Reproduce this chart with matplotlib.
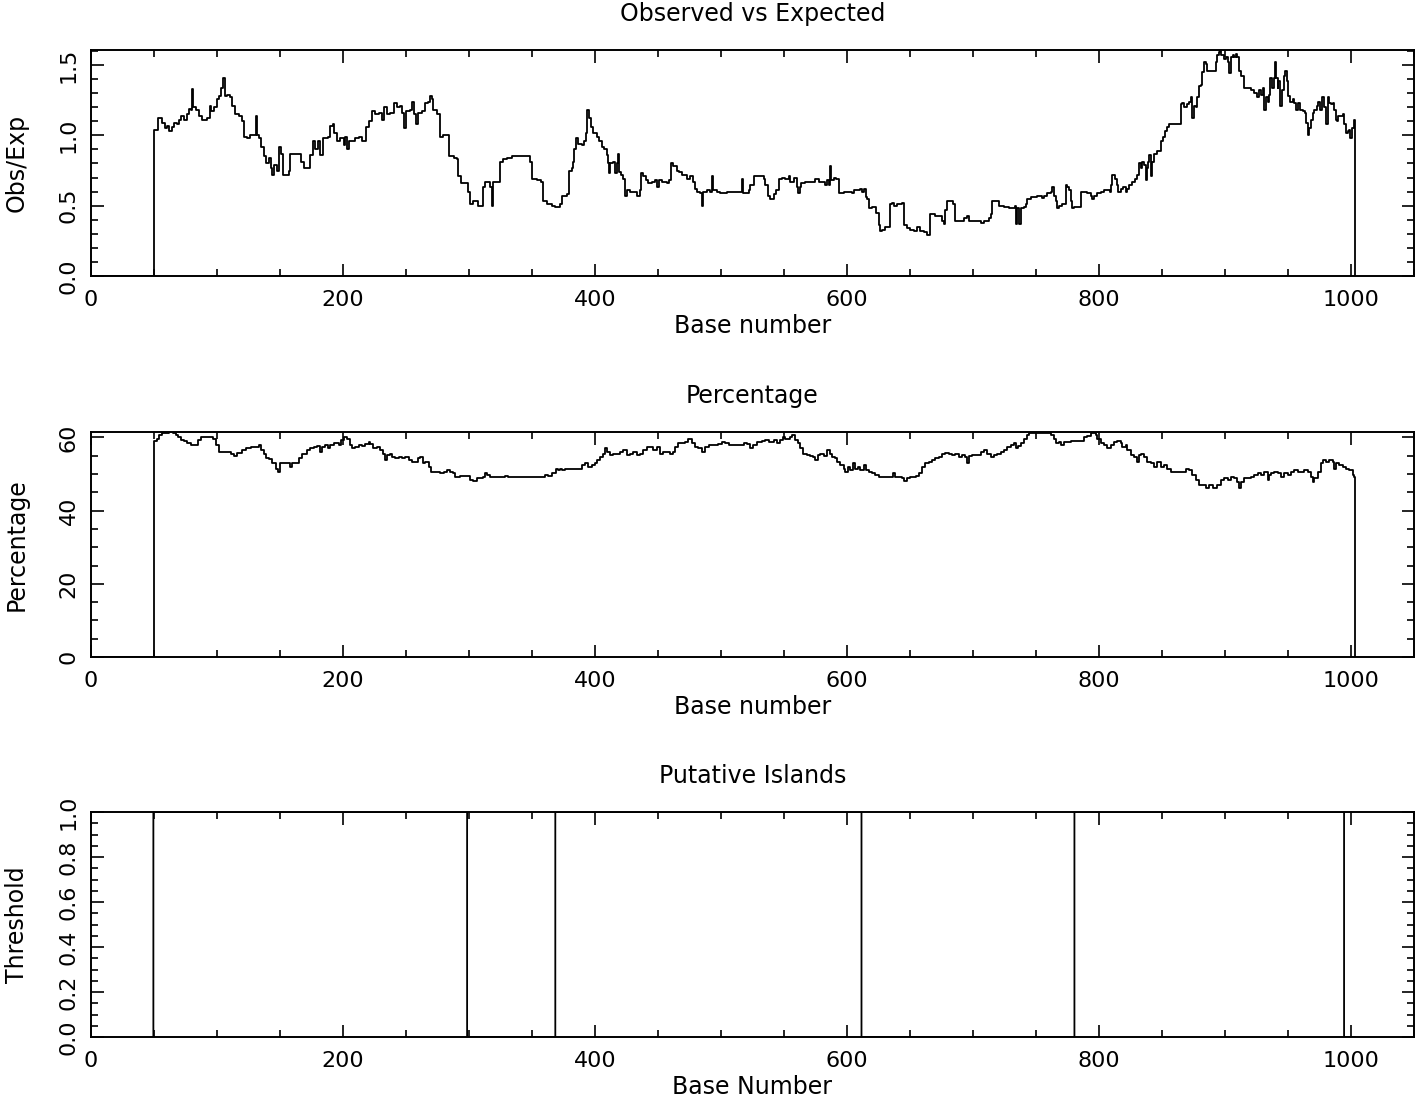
import matplotlib
matplotlib.use("Agg")
import matplotlib.pyplot as plt
from matplotlib.ticker import MultipleLocator

# ---- observed / expected ratio ----
obs_base = [1, 49, 50, 52.8, 56, 56.7, 58.6, 60.7, 62, 63.9, 66, 68, 70, 71.8, 73.9, 76, 77.8, 79.7,
            80.5, 81.3, 83.1, 85.8, 88.4, 91, 92.4, 94.5, 95.5, 97.6, 99.8, 101.6, 103.4, 104.5, 106.1,
            108.2, 110.3, 111.6, 114, 117.4, 120.1, 121.4, 123.5, 126.1, 128.8, 130.6, 131.4, 133.3,
            135.1, 137.2, 138.5, 141.2, 142.5, 143.8, 145.1, 147.3, 149.1, 151, 152.5, 155.7, 157,
            158.3, 161, 164.9, 166.8, 168.9, 172.1, 174.2, 176.3, 178.1, 180, 182.1, 184.2, 187.9, 190,
            192.1, 193.2, 195.3, 197.9, 200.6, 201.9, 203.2, 204.5, 207.2, 209.8, 212.4, 215.1, 216.9,
            218.5, 220.4, 223, 225.6, 228.3, 230.9, 232.8, 234.9, 237.5, 240.1, 242.8, 244.9, 247,
            248.6, 250.2, 252.8, 254.7, 256.5, 258.1, 259.9, 262.6, 265.2, 267.1, 269.2, 270.5, 271.8,
            274.5, 276.6, 277.1, 279.7, 283.2, 284.5, 287.7, 290.3, 291.6, 293.5, 297.7, 299.5, 300.8,
            303.5, 307.4, 310.1, 310.9, 312.7, 315.4, 316.7, 318, 319.3, 322.5, 324.6, 327.2, 330.4,
            333.8, 340.4, 344.4, 348.3, 349.9, 353.6, 356.8, 358.9, 362.1, 365.5, 368.1, 372.1, 374.2,
            377.9, 379.5, 381.5, 382.8, 383.3, 384.9, 386.8, 389.4, 391.3, 392.8, 393.4, 393.9, 395.5,
            396.6, 398.7, 401.3, 403.4, 405.3, 407.2, 409.3, 410.6, 411.0, 411.9, 414.6, 415.9, 417.2,
            418.5, 419.3, 420.7, 422.5, 424.1, 425.2, 427.8, 430.5, 433.6, 435.8, 436.3, 438.4, 440.5,
            442.4, 445, 447.7, 449, 451.1, 453, 455.6, 457, 459.1, 460.4, 462.3, 464.9, 467, 468.9,
            470.7, 472.8, 475.5, 477.6, 479.5, 481.3, 483.4, 484.8, 486.1, 488.7, 491.4, 492.7, 494,
            496.7, 499.3, 502, 504.6, 509.9, 515.2, 516.6, 517.4, 519.2, 521.9, 523.2, 525.8, 531.1,
            533.8, 535.1, 537, 539.1, 541.7, 543.8, 545.7, 548.3, 551, 553.6, 555, 557.6, 560.3, 560.8,
            562.4, 563.4, 566.9, 570.9, 574.8, 577.5, 580.1, 582.8, 584.1, 585.4, 586.2, 587.3, 589.4,
            591.5, 593.4, 596, 597.4, 601.3, 604, 605.3, 608, 610.6, 611.9, 613.8, 615.4, 615.9, 617.2,
            619.9, 621.7, 623.3, 625.2, 626, 627.8, 630.5, 633.1, 633.9, 635.8, 637.1, 639.7, 643.7,
            645, 647.7, 650.3, 653, 655.6, 658.3, 660.9, 663.6, 664.9, 666.2, 668.3, 670.2, 672.8,
            675.5, 676.8, 678.1, 679.5, 682.1, 684.2, 686.1, 688.7, 691.4, 693.2, 695.4, 696.7, 700.7,
            704.6, 706.5, 708.6, 712.6, 713.9, 715.2, 717.9, 720.5, 724.5, 728.5, 731.1, 733, 733.8,
            735.1, 736.4, 737.7, 740.4, 741.7, 743, 745.7, 748.3, 751, 753.6, 755, 756.3, 758.9, 761.6,
            762.9, 764.2, 765.6, 766.4, 768.2, 770.9, 772.2, 773.5, 774.8, 776.2, 777.5, 778.8, 780.1,
            784.1, 785.4, 788.1, 790.7, 793.4, 794.7, 796, 798.7, 801.3, 804, 806.6, 808.7, 809.3,
            810.6, 812.5, 814, 815.1, 817.2, 819.3, 821.2, 822.5, 823.8, 826.5, 828.3, 830.5, 831.8,
            833.1, 834.4, 835.8, 837.1, 837.9, 838.9, 840, 841.1, 842.4, 843.7, 845.8, 847.7, 849.5,
            851.1, 852.2, 853.8, 855.6, 859.6, 863.6, 864.9, 866.2, 867.5, 868.9, 870.2, 871.5, 872.8,
            874.2, 875.5, 876.8, 878.1, 879.5, 880.8, 882.1, 883.4, 884.8, 886.1, 887.4, 890.1, 891.4,
            892.7, 894, 895.4, 896.2, 897.2, 899.3, 900.7, 902, 903.3, 904.6, 906, 907.3, 908.6, 909.9,
            911.3, 912.6, 914.7, 916.6, 919.2, 920.5, 923.2, 925.3, 927.2, 928.5, 929.8, 931.1, 932.5,
            934.3, 935.1, 935.9, 937, 938.5, 939.6, 940.4, 941.7, 942.3, 943.8, 944.9, 946.5, 947.5,
            949.1, 950.2, 951.8, 953.6, 955, 956.3, 957.6, 959.7, 961.6, 963.4, 964.2, 965.6, 966.9,
            968.2, 969.5, 970.9, 973, 974, 975.6, 976.7, 978.3, 979.3, 980.1, 981.5, 982.8, 984.1,
            985.4, 986.8, 988.1, 988.9, 989.9, 991.5, 993.4, 994.7, 996, 997.4, 998.7, 999.5, 1000.5,
            1002.1, 1002.6, 1003.2]
obs_val = [0, 0, 1.04, 1.12, 1.12, 1.09, 1.05, 1.07, 1.03, 1.06, 1.09, 1.08, 1.11, 1.14, 1.11, 1.15,
           1.19, 1.18, 1.33, 1.20, 1.18, 1.14, 1.11, 1.11, 1.12, 1.21, 1.17, 1.20, 1.26, 1.28, 1.34,
           1.41, 1.28, 1.29, 1.27, 1.21, 1.15, 1.14, 1.10, 0.99, 0.98, 1.00, 1.00, 1.14, 1.00, 0.98,
           0.92, 0.85, 0.80, 0.84, 0.77, 0.72, 0.79, 0.75, 0.92, 0.87, 0.72, 0.72, 0.75, 0.87, 0.87,
           0.87, 0.81, 0.77, 0.77, 0.86, 0.96, 0.90, 0.96, 0.86, 0.98, 0.99, 1.07, 1.08, 1.02, 0.96,
           0.98, 0.93, 0.99, 0.90, 0.96, 0.96, 0.98, 0.99, 0.96, 0.96, 1.06, 1.10, 1.17, 1.15, 1.16,
           1.11, 1.20, 1.15, 1.16, 1.23, 1.20, 1.21, 1.16, 1.05, 1.17, 1.18, 1.24, 1.15, 1.08, 1.16,
           1.17, 1.23, 1.24, 1.28, 1.26, 1.18, 1.15, 1.08, 0.99, 1.00, 1.00, 0.85, 0.84, 0.83, 0.71,
           0.66, 0.66, 0.60, 0.51, 0.53, 0.50, 0.50, 0.63, 0.67, 0.67, 0.63, 0.50, 0.67, 0.67, 0.81,
           0.83, 0.84, 0.85, 0.85, 0.85, 0.81, 0.69, 0.68, 0.67, 0.53, 0.51, 0.50, 0.49, 0.51, 0.57,
           0.58, 0.75, 0.77, 0.81, 0.90, 0.98, 0.94, 0.93, 0.96, 1.02, 1.09, 1.18, 1.12, 1.06, 1.02,
           0.99, 0.96, 0.92, 0.90, 0.86, 0.80, 0.73, 0.80, 0.81, 0.73, 0.80, 0.87, 0.74, 0.72, 0.69,
           0.57, 0.61, 0.60, 0.60, 0.57, 0.61, 0.73, 0.71, 0.68, 0.66, 0.67, 0.68, 0.63, 0.68, 0.67,
           0.67, 0.66, 0.68, 0.80, 0.78, 0.75, 0.74, 0.72, 0.72, 0.69, 0.71, 0.67, 0.62, 0.60, 0.59,
           0.50, 0.60, 0.61, 0.60, 0.71, 0.61, 0.60, 0.59, 0.59, 0.60, 0.60, 0.60, 0.69, 0.59, 0.59,
           0.61, 0.65, 0.71, 0.71, 0.69, 0.65, 0.57, 0.55, 0.58, 0.61, 0.69, 0.70, 0.69, 0.71, 0.67,
           0.70, 0.63, 0.59, 0.63, 0.66, 0.67, 0.67, 0.69, 0.67, 0.67, 0.65, 0.68, 0.65, 0.78, 0.68,
           0.70, 0.69, 0.59, 0.59, 0.60, 0.60, 0.59, 0.61, 0.61, 0.62, 0.60, 0.62, 0.56, 0.55, 0.48,
           0.49, 0.49, 0.45, 0.36, 0.32, 0.33, 0.35, 0.35, 0.51, 0.52, 0.50, 0.51, 0.52, 0.36, 0.34,
           0.33, 0.32, 0.35, 0.32, 0.31, 0.29, 0.29, 0.44, 0.44, 0.43, 0.43, 0.39, 0.37, 0.47, 0.53,
           0.53, 0.51, 0.39, 0.39, 0.39, 0.41, 0.43, 0.39, 0.39, 0.39, 0.38, 0.39, 0.41, 0.44, 0.53,
           0.53, 0.50, 0.49, 0.48, 0.48, 0.50, 0.37, 0.48, 0.37, 0.48, 0.49, 0.51, 0.55, 0.56, 0.56,
           0.57, 0.57, 0.555, 0.57, 0.59, 0.60, 0.63, 0.57, 0.53, 0.48, 0.50, 0.51, 0.51, 0.65, 0.63,
           0.61, 0.53, 0.48, 0.49, 0.49, 0.60, 0.60, 0.59, 0.57, 0.55, 0.57, 0.59, 0.60, 0.61, 0.61,
           0.60, 0.65, 0.72, 0.69, 0.65, 0.60, 0.62, 0.63, 0.60, 0.62, 0.65, 0.67, 0.69, 0.72, 0.80,
           0.77, 0.81, 0.79, 0.68, 0.77, 0.81, 0.86, 0.71, 0.81, 0.87, 0.89, 0.89, 0.96, 0.99, 1.03,
           1.06, 1.08, 1.08, 1.08, 1.22, 1.23, 1.20, 1.20, 1.22, 1.24, 1.27, 1.12, 1.21, 1.20, 1.27,
           1.35, 1.36, 1.45, 1.52, 1.51, 1.46, 1.46, 1.46, 1.46, 1.52, 1.57, 1.59, 1.615, 1.57, 1.54,
           1.56, 1.52, 1.44, 1.56, 1.57, 1.56, 1.58, 1.56, 1.46, 1.42, 1.34, 1.34, 1.34, 1.32, 1.30,
           1.27, 1.32, 1.29, 1.34, 1.18, 1.27, 1.24, 1.29, 1.41, 1.34, 1.41, 1.52, 1.41, 1.34, 1.39,
           1.21, 1.32, 1.42, 1.46, 1.39, 1.28, 1.24, 1.26, 1.23, 1.18, 1.23, 1.18, 1.17, 1.16, 1.09,
           1.00, 1.05, 1.11, 1.16, 1.18, 1.21, 1.24, 1.18, 1.27, 1.20, 1.20, 1.08, 1.27, 1.23, 1.22,
           1.23, 1.18, 1.11, 1.10, 1.14, 1.14, 1.15, 1.08, 1.02, 1.03, 1.04, 0.98, 1.05, 1.10, 1.11, 0]

# ---- CpG percentage ----
pct_base = [1, 49, 50, 52.3, 54.1, 56, 58.1, 62, 64.7, 67.3, 69.1, 71.3, 73.9, 76.5, 79.2, 83.1, 85,
            87.1, 91, 95, 97.1, 99, 101.6, 105.6, 110.8, 113.5, 116.1, 120.1, 122.7, 126.7, 130.6,
            133.3, 135.1, 137.2, 138.5, 141.2, 143.8, 146.5, 148.3, 149.9, 153.1, 155.7, 157.8, 159.7,
            163.6, 164.9, 167.6, 171.5, 174.2, 176.8, 179.5, 181.6, 183.4, 186, 187.9, 190, 192.6,
            195.3, 196.6, 198.5, 201.1, 203.2, 205.3, 207.2, 209.8, 212.4, 215.1, 217.7, 220.4, 221.7,
            223.8, 227, 229.6, 231.7, 233.6, 234.9, 237, 238.8, 241.5, 244.1, 246.7, 249.4, 252, 254.7,
            257.3, 259.9, 261.3, 263.4, 265.2, 267.9, 269.7, 271.8, 274.5, 277.1, 280.3, 282.4, 285,
            287.1, 289, 292.9, 297.7, 300.8, 303.5, 306.6, 309.3, 310.9, 312.7, 314.6, 316.7, 324.6,
            328.6, 331.2, 336.5, 340.4, 343.1, 349.7, 353.6, 357.6, 360.2, 362.9, 365.5, 368.1, 368.9,
            370.8, 372.6, 374.2, 376.1, 380, 382.8, 386.8, 389.4, 392.1, 394.7, 397.4, 400, 401.9,
            404, 406.6, 407.9, 409.8, 411.9, 414.6, 417.2, 419.9, 422.5, 425.2, 427.8, 430.5, 433.1,
            435.8, 438.4, 441.1, 443.7, 446.4, 449, 451.7, 454.3, 457, 459.6, 462.3, 463.6, 466.2,
            468.9, 471.5, 474.2, 476.8, 479.5, 482.1, 484.8, 487.4, 490.1, 494, 498, 500.7, 503.3,
            506, 509.9, 515.2, 517.9, 520.5, 523.2, 525.3, 528.5, 532.5, 535.1, 537.7, 541.7, 544.4,
            547, 549.1, 551, 554.4, 556.3, 558.9, 560.8, 562.9, 565, 568.2, 570.9, 573, 574.8, 576.7,
            578.8, 581.5, 584.1, 586.2, 588.1, 590.7, 592.1, 594.7, 597.4, 598.7, 600.5, 602.6, 604.8,
            606.6, 608.5, 610.6, 613.2, 615.4, 617.2, 619.9, 622.5, 625.2, 627.8, 630.5, 634.4, 636.6,
            638.4, 641.1, 643.7, 645.6, 647.7, 650.3, 653, 655.1, 657, 659.6, 662.3, 664.9, 667.5,
            670.2, 672.8, 675.5, 678.1, 680.8, 683.4, 686.1, 688.7, 691.4, 694, 695.4, 696.7, 699.3,
            703.3, 706, 708.6, 711.3, 713.9, 716.6, 719.2, 721.9, 724.5, 727.2, 729.8, 732.5, 733.8,
            735.6, 737.7, 740.4, 742.5, 744.4, 753.6, 755, 758.9, 761.6, 764.2, 765.6, 768.2, 769.5,
            772.2, 777.5, 785.4, 788.1, 790.7, 793.4, 794.7, 797.4, 798.7, 801.3, 804, 806.6, 809.3,
            811.9, 814.6, 817.2, 818.5, 821.2, 822.5, 825.2, 827.8, 830.5, 831.8, 833.1, 835.8, 838.4,
            841.1, 843.7, 846.4, 849, 851.7, 854.3, 857, 866.2, 868.9, 871.5, 874.2, 876.8, 879.5,
            882.1, 884.8, 887.4, 890.1, 892.7, 894, 896.7, 899.3, 902, 904.6, 907.3, 909.9, 911.3,
            912.6, 915.2, 920.5, 923.2, 925.8, 928.5, 931.1, 933.8, 935.1, 936.4, 939.1, 941.7, 944.4,
            947, 949.7, 952.3, 955, 957.6, 960.3, 962.9, 965.6, 968.2, 969.5, 970.9, 973.5, 976.2,
            977.5, 980.1, 982.8, 985.4, 986.8, 988.1, 990.7, 993.4, 996, 998.7, 1001.3, 1002.6, 1003.2]
pct_val = [0, 0, 59.1, 59.7, 60.6, 61.1, 61.3, 61.6, 61.3, 60.6, 60.2, 59.3, 59.1, 58.5, 57.9, 57.9,
           59.3, 60.0, 60.0, 60.2, 59.7, 57.9, 56.1, 56.1, 55.6, 54.9, 55.8, 56.5, 57.0, 57.4, 57.3,
           57.9, 56.5, 55.6, 54.3, 54.0, 52.9, 51.5, 50.6, 52.9, 52.9, 52.9, 52.0, 52.9, 52.9, 54.3,
           55.6, 56.5, 57.0, 57.4, 57.6, 56.1, 57.4, 57.9, 57.0, 57.9, 58.4, 58.5, 57.9, 59.3, 60.2,
           59.7, 57.9, 57.0, 57.4, 57.9, 57.6, 58.2, 58.8, 58.2, 57.0, 57.4, 56.5, 55.6, 53.8, 55.2,
           55.6, 54.7, 54.3, 54.7, 54.3, 54.7, 53.8, 53.3, 53.3, 54.3, 54.7, 52.9, 53.3, 52.0, 50.6,
           50.6, 50.6, 50.2, 50.6, 51.1, 50.6, 50.2, 49.2, 49.4, 49.4, 48.3, 48.1, 48.8, 48.8, 49.2,
           50.3, 49.7, 49.2, 49.2, 49.4, 49.1, 49.1, 49.2, 49.2, 49.1, 49.1, 49.1, 49.7, 49.4, 50.2,
           50.2, 51.5, 51.1, 51.5, 51.1, 51.5, 51.5, 51.5, 51.5, 52.4, 52.9, 52.0, 52.4, 53.1, 53.8,
           54.7, 55.6, 57.0, 56.1, 55.2, 55.6, 55.6, 56.1, 56.5, 55.2, 55.6, 56.1, 55.2, 55.6, 56.5,
           57.4, 57.4, 56.5, 57.4, 55.6, 56.1, 56.1, 55.6, 56.1, 57.4, 58.4, 58.4, 58.8, 59.7, 58.4,
           57.4, 57.0, 56.1, 57.4, 57.9, 57.9, 58.2, 58.8, 58.4, 57.9, 57.9, 57.9, 58.4, 58.2, 57.0,
           57.9, 58.8, 59.1, 59.3, 58.8, 59.3, 58.4, 59.3, 60.2, 59.7, 60.2, 60.6, 59.3, 58.4, 57.0,
           55.6, 55.2, 54.9, 54.7, 53.8, 55.2, 55.6, 54.9, 56.5, 55.6, 54.7, 54.3, 53.3, 52.4, 51.5,
           50.6, 52.0, 51.2, 52.9, 51.5, 52.0, 51.1, 52.4, 51.2, 50.6, 50.2, 49.7, 49.2, 49.2, 49.1,
           49.1, 50.2, 49.2, 49.2, 48.8, 48.1, 48.8, 49.1, 49.1, 49.4, 50.2, 52.0, 52.9, 53.3, 53.8,
           54.3, 54.7, 55.6, 55.8, 55.6, 55.2, 55.6, 54.7, 55.2, 54.7, 52.9, 54.9, 55.2, 55.2, 56.1,
           56.5, 55.6, 54.7, 55.2, 55.6, 56.1, 56.5, 57.4, 57.9, 58.4, 57.0, 57.6, 58.4, 59.7, 60.6,
           61.3, 61.3, 61.1, 61.3, 60.6, 59.7, 58.4, 58.8, 57.9, 58.8, 59.1, 59.1, 60.0, 60.4, 61.1,
           61.3, 60.6, 59.7, 58.4, 57.9, 57.0, 57.9, 58.8, 59.1, 58.4, 57.4, 57.9, 56.5, 55.2, 54.7,
           53.3, 55.2, 55.6, 54.7, 53.3, 52.9, 52.0, 53.3, 52.0, 52.4, 51.5, 50.6, 50.6, 51.5, 51.1,
           49.7, 48.3, 47.0, 47.0, 46.1, 47.0, 46.1, 46.1, 47.0, 48.3, 48.8, 48.3, 49.2, 48.8, 47.9,
           46.1, 47.9, 48.8, 49.1, 49.7, 50.2, 49.7, 50.6, 48.3, 49.7, 50.2, 50.6, 50.2, 49.2, 50.2,
           49.7, 50.6, 51.1, 50.6, 50.6, 51.1, 50.6, 49.2, 47.9, 48.8, 50.6, 52.9, 53.8, 53.3, 53.8,
           53.3, 51.5, 52.9, 52.4, 52.0, 51.5, 51.1, 49.7, 49.2, 0]

# ---- putative islands (start, end base) ----
island_start = [50, 369, 781]
island_end = [298, 611, 994]
thr_first, thr_last = 49, 1003

thr_base = list(range(thr_first, thr_last + 1))
thr_val = [1 if any(s <= b <= e for s, e in zip(island_start, island_end)) else 0 for b in thr_base]

plt.rcParams['font.family'] = ['DejaVu Sans']
FS = 17     # titles / axis labels
TFS = 16    # tick labels

fig = plt.figure(figsize=(14.18, 10.99), dpi=100)
W, H = 1418.0, 1099.0
left, right = 91 / W, 1414 / W


def make_ax(top_px, bot_px):
    return fig.add_axes([left, 1 - bot_px / H, right - left, (bot_px - top_px) / H])


def style(ax, title, xlabel, ylabel, ymaj, ymin):
    ax.set_xlim(0, 1050)
    ax.xaxis.set_major_locator(MultipleLocator(200))
    ax.xaxis.set_minor_locator(MultipleLocator(50))
    ax.yaxis.set_major_locator(MultipleLocator(ymaj))
    ax.yaxis.set_minor_locator(MultipleLocator(ymin))
    ax.tick_params(which='both', direction='in', top=True, right=True, width=1.2,
                   labelsize=TFS, color='black')
    ax.tick_params(which='major', length=9)
    ax.tick_params(which='minor', length=5)
    ax.tick_params(axis='x', pad=10)
    ax.tick_params(axis='y', pad=9, labelrotation=90)
    for sp in ax.spines.values():
        sp.set_linewidth(1.4)
    ax.set_title(title, fontsize=FS, pad=21)
    ax.set_xlabel(xlabel, fontsize=FS, labelpad=3)
    ax.set_ylabel(ylabel, fontsize=FS, va='center')
    ax.yaxis.set_label_coords(-0.056, 0.5)


ax1 = make_ax(50, 276)
ax1.plot(obs_base, obs_val, color='black', lw=1.3, drawstyle='steps-post')
ax1.set_ylim(0, 1.607)
style(ax1, 'Observed vs Expected', 'Base number', 'Obs/Exp', 0.5, 0.1)
ax1.yaxis.set_major_formatter(plt.FormatStrFormatter('%.1f'))

ax2 = make_ax(432, 657)
ax2.plot(pct_base, pct_val, color='black', lw=1.3, drawstyle='steps-post')
ax2.set_ylim(0, 61.5)
style(ax2, 'Percentage', 'Base number', 'Percentage', 20, 5)

ax3 = make_ax(812, 1037)
ax3.plot(thr_base, thr_val, color='black', lw=1.3, drawstyle='steps-mid')
ax3.set_ylim(0, 1.0)
style(ax3, 'Putative Islands', 'Base Number', 'Threshold', 0.2, 0.05)
ax3.yaxis.set_major_formatter(plt.FormatStrFormatter('%.1f'))

for ax in (ax1, ax2, ax3):
    for lab in ax.get_yticklabels():
        lab.set_va('center')

fig.savefig('out.png', dpi=100)
